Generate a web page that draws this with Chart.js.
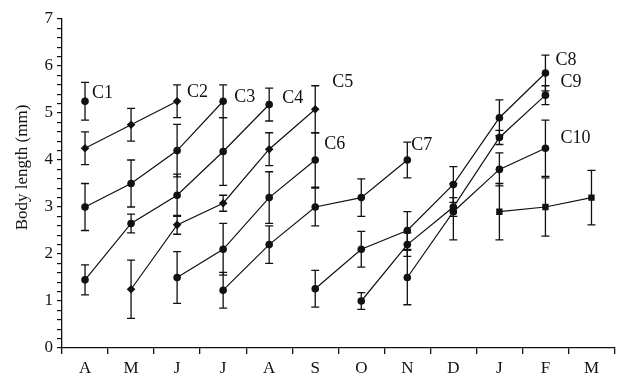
<!DOCTYPE html>
<html>
<head>
<meta charset="utf-8">
<script src="https://cdn.jsdelivr.net/npm/chart.js@4.4.1/dist/chart.umd.min.js"></script>
<style>
  html, body { margin: 0; padding: 0; background: #fff; }
</style>
</head>
<body>
<canvas id="myChart" width="619" height="375"></canvas>
<script>
// months, April to March
const months = ["A", "M", "J", "J", "A", "S", "O", "N", "D", "J", "F", "M"];

// mean body length (mm) per cohort, null where the cohort is absent
const c1 = [5.25, null, null, null, null, null, null, null, null, null, null, null];
const c2 = [4.25, 4.75, 5.25, null, null, null, null, null, null, null, null, null];
const c3 = [3.0, 3.5, 4.2, 5.25, null, null, null, null, null, null, null, null];
const c4 = [1.45, 2.65, 3.25, 4.18, 5.18, null, null, null, null, null, null, null];
const c5 = [null, 1.25, 2.62, 3.08, 4.23, 5.08, null, null, null, null, null, null];
const c6 = [null, null, 1.5, 2.1, 3.2, 4.0, null, null, null, null, null, null];
const c7 = [null, null, null, 1.23, 2.2, 3.0, 3.2, 4.0, null, null, null, null];
const c8 = [null, null, null, null, null, 1.26, 2.1, 2.5, 3.48, 4.9, 5.85, null];
const c9 = [null, null, null, null, null, null, 1.0, 2.2, 3.0, 4.48, 5.38, null];
const c10 = [null, null, null, null, null, null, null, 1.5, 2.9, 3.8, 4.25, null];
const c11 = [null, null, null, null, null, null, null, null, null, 2.9, 3.0, 3.2];

// error (+/-) for each point
const e1 = [0.4, null, null, null, null, null, null, null, null, null, null, null];
const e2 = [0.35, 0.35, 0.35, null, null, null, null, null, null, null, null, null];
const e3 = [0.5, 0.5, 0.56, 0.35, null, null, null, null, null, null, null, null];
const e4 = [0.32, 0.2, 0.45, 0.72, 0.35, null, null, null, null, null, null, null];
const e5 = [null, 0.62, 0.2, 0.17, 0.35, 0.5, null, null, null, null, null, null];
const e6 = [null, null, 0.55, 0.55, 0.55, 0.58, null, null, null, null, null, null];
const e7 = [null, null, null, 0.38, 0.4, 0.4, 0.4, 0.38, null, null, null, null];
const e8 = [null, null, null, null, null, 0.39, 0.38, 0.4, 0.38, 0.38, 0.38, null];
const e9 = [null, null, null, null, null, null, 0.18, 0.25, 0.2, 0.15, 0.2, null];
const e10 = [null, null, null, null, null, null, null, 0.58, 0.6, 0.35, 0.6, null];
const e11 = [null, null, null, null, null, null, null, null, null, 0.6, 0.62, 0.58];

const cohortNames = ["C1", "C2", "C3", "C4", "C5", "C6", "C7", "C8", "C9", "C10", ""];
const yTitle = "Body length (mm)";

const values = [c1, c2, c3, c4, c5, c6, c7, c8, c9, c10, c11];
const errors = [e1, e2, e3, e4, e5, e6, e7, e8, e9, e10, e11];
const shapes = ["circle", "rectRot", "circle", "circle", "rectRot", "circle", "circle", "circle", "circle", "circle", "rect"];
const radii = { circle: 3.8, rectRot: 4.3, rect: 4.5 };
// where each cohort name sits, relative to its last point
const nameOffsets = [[7, -8], [10, -9], [11, -4], [13, -6], [17, -27], [9, -16], [4, -15], [10, -13], [15, -13], [15, -10], [0, 0]];

const serif = "'Liberation Serif', 'Times New Roman', serif";

const errorBars = {
  id: "errorBars",
  beforeDatasetsDraw(chart) {
    const { ctx, scales } = chart;
    ctx.save();
    ctx.strokeStyle = "#111";
    ctx.lineWidth = 1.3;
    chart.data.datasets.forEach((ds, di) => {
      ds.data.forEach((v, i) => {
        const err = errors[di][i];
        if (v == null || err == null) return;
        const x = scales.x.getPixelForValue(i);
        const yTop = scales.y.getPixelForValue(v + err);
        const yBot = scales.y.getPixelForValue(v - err);
        ctx.beginPath();
        ctx.moveTo(x, yTop);
        ctx.lineTo(x, yBot);
        ctx.moveTo(x - 4, yTop);
        ctx.lineTo(x + 4, yTop);
        ctx.moveTo(x - 4, yBot);
        ctx.lineTo(x + 4, yBot);
        ctx.stroke();
      });
    });
    ctx.restore();
  },
  afterDatasetsDraw(chart) {
    const { ctx, scales } = chart;
    ctx.save();
    ctx.fillStyle = "#111";
    ctx.font = "18px " + serif;
    ctx.textAlign = "left";
    ctx.textBaseline = "middle";
    chart.data.datasets.forEach((ds, di) => {
      let last = -1;
      ds.data.forEach((v, i) => { if (v != null) last = i; });
      if (last < 0 || !cohortNames[di]) return;
      const x = scales.x.getPixelForValue(last);
      const y = scales.y.getPixelForValue(ds.data[last]);
      ctx.fillText(cohortNames[di], x + nameOffsets[di][0], y + nameOffsets[di][1]);
    });

    // y axis title, sitting a little above the middle of the axis like the original
    ctx.font = "17px " + serif;
    ctx.textAlign = "center";
    ctx.translate(23, scales.y.getPixelForValue(3.5) - 16);
    ctx.rotate(-Math.PI / 2);
    ctx.fillText(yTitle, 0, 0);
    ctx.restore();
  },
};

const ctx = document.getElementById("myChart").getContext("2d");
const myChart = new Chart(ctx, {
  type: "line",
  data: {
    labels: months,
    datasets: values.map((vals, i) => ({
      label: cohortNames[i] || "C11",
      data: vals,
      borderColor: "#111",
      backgroundColor: "#111",
      borderWidth: 1.2,
      pointStyle: shapes[i],
      pointRadius: radii[shapes[i]],
      pointBackgroundColor: "#111",
      pointBorderWidth: 0,
      tension: 0,
      fill: false,
    })),
  },
  options: {
    responsive: false,
    animation: false,
    layout: { padding: { top: 19, right: 0, left: 0, bottom: 0 } },
    plugins: {
      legend: { display: false },
      tooltip: { enabled: false },
    },
    scales: {
      x: {
        offset: true,
        afterFit: (s) => { s.height = 27; },
        border: { color: "#111", width: 1.3 },
        grid: {
          offset: true,
          drawOnChartArea: false,
          drawTicks: true,
          tickLength: 6,
          color: "#111",
          lineWidth: 1.3,
        },
        ticks: {
          color: "#111",
          font: { family: serif, size: 17 },
          padding: 4,
          maxRotation: 0,
          autoSkip: false,
        },
      },
      y: {
        min: 0,
        max: 7,
        afterFit: (s) => { s.width = 62; },
        border: { color: "#111", width: 1.3 },
        grid: {
          drawOnChartArea: false,
          drawTicks: true,
          tickLength: 5,
          color: "#111",
          lineWidth: 1.2,
        },
        ticks: {
          stepSize: 0.2,
          autoSkip: false,
          color: "#111",
          font: { family: serif, size: 17 },
          padding: 4,
          callback: (v) => (Math.abs(v - Math.round(v)) < 1e-6 ? Math.round(v) : ""),
        },
      },
    },
  },
  plugins: [errorBars],
});
</script>
</body>
</html>
